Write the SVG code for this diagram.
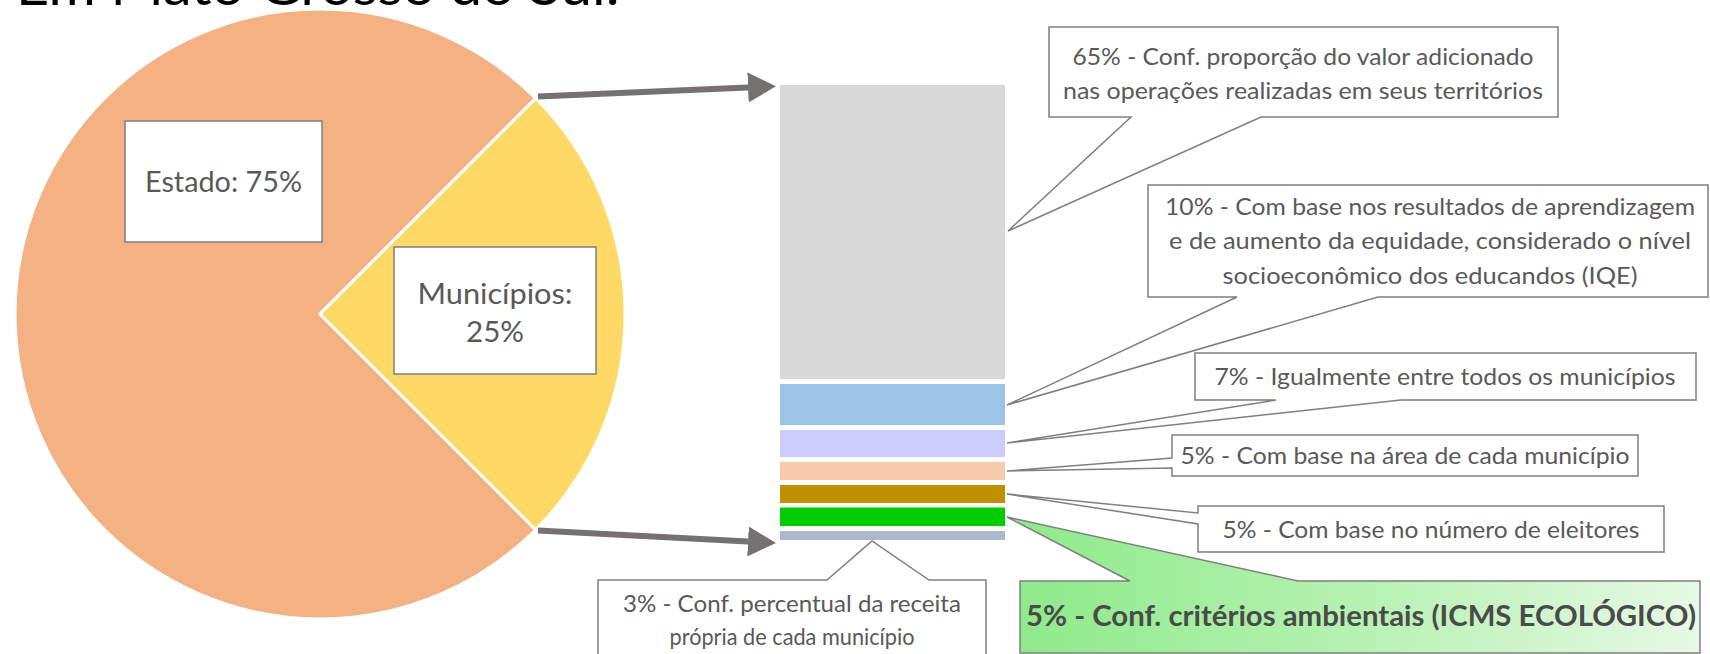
<svg xmlns="http://www.w3.org/2000/svg" width="1710" height="654" viewBox="0 0 1710 654">
<style>
.t{font-family:Lato,"Open Sans","Liberation Sans",sans-serif;fill:#595959;text-anchor:middle;font-size:24px}
.pl{font-size:28px}
.b{font-weight:bold;font-size:29px;fill:#4a4a4a}
.co{fill:#fff;stroke:#7f7f7f;stroke-width:1.5}
.lb{fill:#fff;stroke:#7f7f7f;stroke-width:1.5}
.sl{stroke:#fff;stroke-width:3;stroke-linejoin:round}
.ar{stroke:#767171;stroke-width:6;fill:none;marker-end:url(#ah)}
</style>
<defs>
<marker id="ah" markerUnits="userSpaceOnUse" viewBox="0 0 28 30" refX="0" refY="15" markerWidth="28" markerHeight="30" orient="auto">
<path d="M0,0 L28,15 L0,30 Z" fill="#767171"/>
</marker>
<linearGradient id="gg" gradientUnits="userSpaceOnUse" x1="1007" y1="0" x2="1700" y2="0">
<stop offset="0" stop-color="#8dea89"/>
<stop offset="0.5" stop-color="#b5f2b1"/>
<stop offset="1" stop-color="#e6f9e4"/>
</linearGradient>
</defs>
<rect width="1710" height="654" fill="#fff"/>
<text x="16" y="5" font-family="Lato,'Open Sans','Liberation Sans',sans-serif" font-size="54" fill="#000" textLength="604" lengthAdjust="spacingAndGlyphs">Em Mato Grosso do Sul:</text>

<g id="pie">
<path class="sl" d="M320,314 L535.7,98.3 A305,305 0 1 0 535.7,529.7 Z" fill="#f4b183"/>
<path class="sl" d="M320,314 L535.7,98.3 A305,305 0 0 1 535.7,529.7 Z" fill="#ffd966"/>
</g>
<g id="label-estado">
<rect class="lb" x="125" y="121" width="197" height="121"/>
<text class="t pl" x="223.5" y="192" textLength="157" lengthAdjust="spacingAndGlyphs">Estado: 75%</text>
</g>
<g id="label-municipios">
<rect class="lb" x="394" y="247" width="202" height="127"/>
<text class="t pl" x="495" y="304" textLength="155" lengthAdjust="spacingAndGlyphs">Municípios:</text>
<text class="t pl" x="495" y="342" textLength="58" lengthAdjust="spacingAndGlyphs">25%</text>
</g>

<g id="bar">
<rect x="780" y="85" width="225" height="294" fill="#d9d9d9"/>
<rect x="780" y="384" width="225" height="41" fill="#9dc3e6"/>
<rect x="780" y="430" width="225" height="27" fill="#ccccff"/>
<rect x="780" y="462" width="225" height="18" fill="#f8cbad"/>
<rect x="780" y="485" width="225" height="18" fill="#bf9000"/>
<rect x="780" y="507.5" width="225" height="18.5" fill="#00cc00"/>
<rect x="780" y="531" width="225" height="9" fill="#adb9ca"/>
</g>

<g id="connectors">
<line class="ar" x1="538" y1="96.5" x2="748" y2="87.5"/>
<line class="ar" x1="538" y1="530.5" x2="748" y2="541.5"/>
</g>

<g id="c65">
<path class="co" d="M1049,27 H1558 V117 H1261 L1008,231 L1131,117 H1049 Z"/>
<text class="t" x="1303" y="65" textLength="461" lengthAdjust="spacingAndGlyphs">65% - Conf. proporção do valor adicionado</text>
<text class="t" x="1303" y="99" textLength="480" lengthAdjust="spacingAndGlyphs">nas operações realizadas em seus territórios</text>
</g>
<g id="c10">
<path class="co" d="M1148,185 H1708 V297 H1378 L1007,405 L1237,297 H1148 Z"/>
<text class="t" x="1430" y="215" textLength="530" lengthAdjust="spacingAndGlyphs">10% - Com base nos resultados de aprendizagem</text>
<text class="t" x="1430" y="249" textLength="522" lengthAdjust="spacingAndGlyphs">e de aumento da equidade, considerado o nível</text>
<text class="t" x="1430" y="284" textLength="415" lengthAdjust="spacingAndGlyphs">socioeconômico dos educandos (IQE)</text>
</g>
<g id="c7">
<path class="co" d="M1195,353 H1696 V400 H1401 L1007,443 L1276,400 H1195 Z"/>
<text class="t" x="1445" y="385" textLength="461" lengthAdjust="spacingAndGlyphs">7% - Igualmente entre todos os municípios</text>
</g>
<g id="c5area">
<path class="co" d="M1172,435 H1638 V476 H1172 V468 L1007,471 L1172,458 Z"/>
<text class="t" x="1405" y="464" textLength="449" lengthAdjust="spacingAndGlyphs">5% - Com base na área de cada município</text>
</g>
<g id="c5eleitores">
<path class="co" d="M1198,506 H1664 V552 H1198 V524 L1007,494 L1198,513 Z"/>
<text class="t" x="1431" y="538" textLength="417" lengthAdjust="spacingAndGlyphs">5% - Com base no número de eleitores</text>
</g>
<g id="c5eco">
<path d="M1020,581 H1130 L1007,517 L1298,581 H1700 V653 H1020 Z" fill="url(#gg)" stroke="#7f7f7f" stroke-width="1.5"/>
<text class="t b" x="1361" y="626" textLength="670" lengthAdjust="spacingAndGlyphs">5% - Conf. critérios ambientais (ICMS ECOLÓGICO)</text>
</g>
<g id="c3">
<path class="co" d="M598,580 H827 L872,541 L929,580 H986 V670 H598 Z"/>
<text class="t" x="792" y="612" textLength="338" lengthAdjust="spacingAndGlyphs">3% - Conf. percentual da receita</text>
<text class="t" x="792" y="645" textLength="245" lengthAdjust="spacingAndGlyphs">própria de cada município</text>
</g>
</svg>
